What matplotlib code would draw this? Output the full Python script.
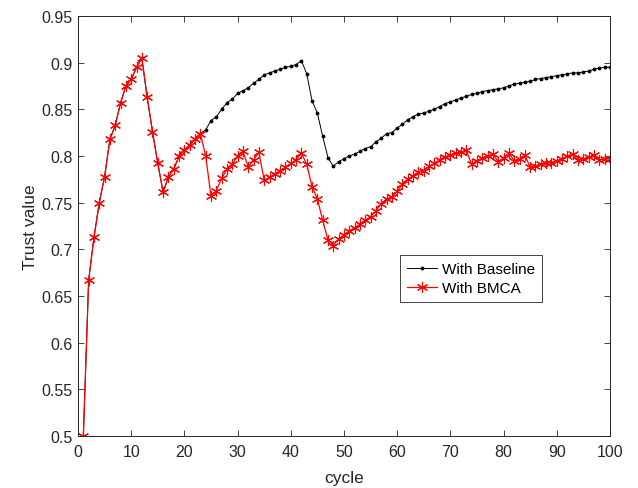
import matplotlib
matplotlib.use("Agg")
import matplotlib.pyplot as plt
import numpy as np

plt.rcParams["font.family"] = ["Liberation Sans", "DejaVu Sans"]

# cycles 1..100
cycle = np.arange(1, 101)

# shared part (cycles 1-23), both curves coincide
shared = [0.500, 0.667, 0.713, 0.750, 0.778, 0.818, 0.833, 0.857, 0.875, 0.882,
          0.895, 0.905, 0.863, 0.826, 0.792, 0.761, 0.778, 0.786, 0.800, 0.806,
          0.812, 0.818, 0.824]

# With Baseline, cycles 24-100
baseline_tail = [0.828, 0.838, 0.842, 0.850, 0.857, 0.861, 0.867, 0.870, 0.873, 0.878,
                 0.882, 0.887, 0.889, 0.891, 0.893, 0.895, 0.896, 0.898, 0.902, 0.888,
                 0.859, 0.846, 0.821, 0.798, 0.789, 0.794, 0.797, 0.800, 0.802, 0.805,
                 0.808, 0.810, 0.815, 0.819, 0.824, 0.825, 0.830, 0.834, 0.839, 0.842,
                 0.845, 0.846, 0.848, 0.850, 0.853, 0.856, 0.858, 0.860, 0.862, 0.864,
                 0.866, 0.867, 0.869, 0.870, 0.871, 0.872, 0.873, 0.875, 0.877, 0.878,
                 0.879, 0.880, 0.882, 0.883, 0.884, 0.885, 0.886, 0.887, 0.888, 0.889,
                 0.889, 0.890, 0.891, 0.893, 0.894, 0.895, 0.895]

# With BMCA, cycles 24-100
bmca_tail = [0.800, 0.757, 0.763, 0.776, 0.786, 0.791, 0.800, 0.805, 0.788, 0.796,
             0.804, 0.774, 0.777, 0.781, 0.784, 0.788, 0.792, 0.796, 0.803, 0.791,
             0.767, 0.754, 0.731, 0.710, 0.704, 0.711, 0.715, 0.720, 0.723, 0.727,
             0.731, 0.735, 0.741, 0.749, 0.754, 0.756, 0.762, 0.770, 0.775, 0.779,
             0.783, 0.784, 0.789, 0.792, 0.796, 0.799, 0.801, 0.803, 0.804, 0.806,
             0.791, 0.795, 0.798, 0.800, 0.802, 0.794, 0.798, 0.803, 0.795, 0.797,
             0.801, 0.788, 0.789, 0.791, 0.792, 0.793, 0.795, 0.797, 0.800, 0.802,
             0.796, 0.797, 0.799, 0.801, 0.796, 0.797, 0.797]

baseline = shared + baseline_tail
bmca = shared + bmca_tail

x_ticks = np.arange(0, 101, 10)
y_ticks = np.arange(0.5, 0.951, 0.05)
axis_color = "#262626"

fig = plt.figure(figsize=(6.38, 4.89), dpi=100)
ax = fig.add_axes([0.1223, 0.1063, 0.8337, 0.8590])

ax.plot(cycle, baseline, color="black", linewidth=0.7, marker=".",
        markersize=3.5, label="With Baseline")
ax.plot(cycle, bmca, color="red", linewidth=0.9, marker=(6, 2, 0),
        markersize=8, markeredgewidth=0.8, label="With BMCA")

ax.set_xlim(0, 100)
ax.set_ylim(0.5, 0.95)
ax.set_xticks(x_ticks)
ax.set_yticks(y_ticks)
ax.set_yticklabels([f"{v:g}" for v in np.round(y_ticks, 2)])

ax.tick_params(direction="in", top=True, right=True, length=4, width=0.6,
               labelsize=11.5, colors=axis_color, labelcolor=axis_color)
ax.tick_params(axis="x", pad=6)
ax.tick_params(axis="y", pad=4)
for s in ax.spines.values():
    s.set_color(axis_color)
    s.set_linewidth(0.7)

ax.set_xlabel("cycle", fontsize=12.5, color=axis_color, labelpad=8)
ax.set_ylabel("Trust value", fontsize=12.5, color=axis_color, labelpad=2)

leg = ax.legend(loc="upper left", bbox_to_anchor=(0.605, 0.43), fontsize=11,
                fancybox=False, edgecolor=axis_color, framealpha=1,
                handlelength=2.0, borderpad=0.45, labelspacing=0.3,
                handletextpad=0.3, borderaxespad=0)
leg.get_frame().set_linewidth(0.6)

fig.savefig("out.png", dpi=100)
